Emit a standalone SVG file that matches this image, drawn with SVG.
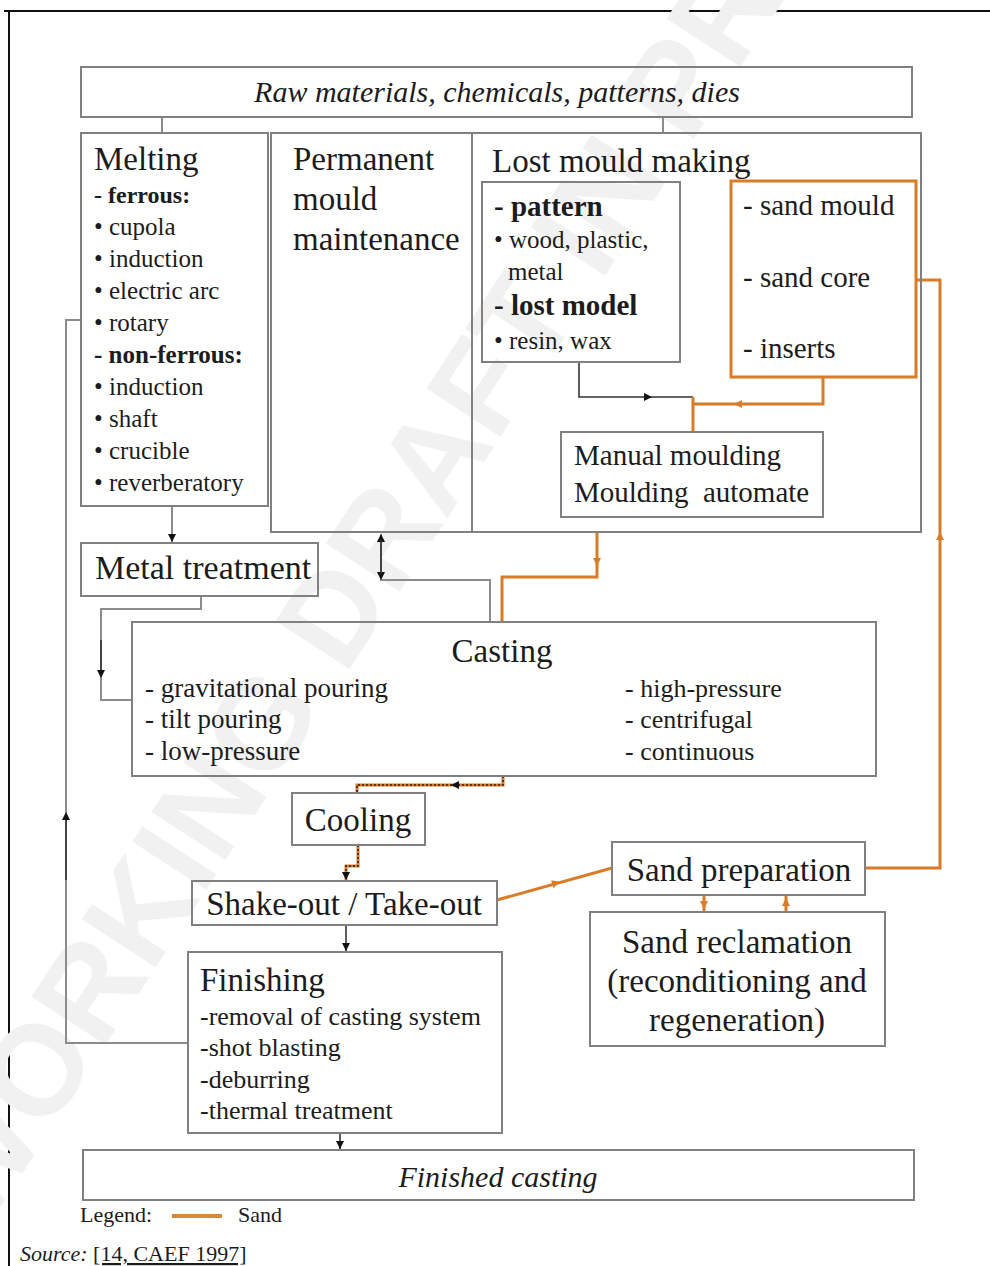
<svg xmlns="http://www.w3.org/2000/svg" width="990" height="1266" viewBox="0 0 990 1266">
<style>
.box{fill:none;stroke:#808080;stroke-width:2}
.obox{fill:none;stroke:#d97b27;stroke-width:3}
.t{font-family:"Liberation Serif","Times New Roman",serif;fill:#1c1c1c}
.i{font-style:italic}
.b{font-weight:bold}
.g{fill:none;stroke:#8c8c8c;stroke-width:2}
.k{fill:none;stroke:#333;stroke-width:1.6}
.o{fill:none;stroke:#d97b27;stroke-width:3}
.od{fill:none;stroke:#222;stroke-width:1.5;stroke-dasharray:2 2}
.ak{fill:#111}
.ao{fill:#d97b27}
</style>
<defs>
<path id="ah" d="M0,0 L-8,-4 L-8,4 Z"/>
</defs>
<rect x="0" y="0" width="990" height="1266" fill="#fff"/>
<g id="frame">
<line x1="4" y1="11" x2="990" y2="11" stroke="#111" stroke-width="2"/>
<line x1="9" y1="11" x2="9" y2="1266" stroke="#111" stroke-width="2"/>
</g>
<g id="watermark" transform="translate(494,362) rotate(-57)">
<text x="0" y="46" text-anchor="middle" font-family="Liberation Sans, Arial, sans-serif" font-weight="bold" font-size="128" fill="#f1f1f1">WORKING DRAFT IN PROGRESS</text>
</g>

<g id="connectors">
<line class="g" x1="162" y1="117" x2="162" y2="133"/>
<line class="g" x1="663" y1="117" x2="663" y2="133"/>
<line class="g" x1="172" y1="506" x2="172" y2="543"/>
<use href="#ah" class="ak" transform="translate(172,542) rotate(90)"/>
<polyline class="g" points="381,534 381,580 490,580 490,622"/>
<use href="#ah" class="ak" transform="translate(381,534) rotate(-90)"/>
<use href="#ah" class="ak" transform="translate(381,580) rotate(90)"/>
<line class="k" x1="381" y1="540" x2="381" y2="574"/>
<polyline class="o" points="597,532 597,577 502,577 502,622"/>
<use href="#ah" class="ao" transform="translate(597,566) rotate(90)"/>
<polyline class="k" points="579,362 579,397 693,397"/>
<use href="#ah" class="ak" transform="translate(652,397)"/>
<polyline class="o" points="823,377 823,404 693,404 693,432"/>
<line class="o" x1="693" y1="397" x2="693" y2="404"/>
<use href="#ah" class="ao" transform="translate(734,404) rotate(180)"/>
<polyline class="o" points="916,280 940,280 940,868 865,868"/>
<use href="#ah" class="ao" transform="translate(940,532) rotate(-90)"/>
<polyline class="g" points="201,596 201,609 101,609 101,700 132,700"/>
<line class="k" x1="101" y1="640" x2="101" y2="676"/>
<use href="#ah" class="ak" transform="translate(101,678) rotate(90)"/>
<polyline class="o" points="503,776 503,785 357,785 357,793"/>
<polyline class="od" points="503,776 503,785 357,785 357,793"/>
<use href="#ah" class="ak" transform="translate(451,785) rotate(180)"/>
<polyline class="o" points="358,845 358,866 346,866 346,881"/>
<polyline class="od" points="358,845 358,866 346,866 346,881"/>
<use href="#ah" class="ak" transform="translate(346,880) rotate(90)"/>
<line class="o" x1="497" y1="900" x2="612" y2="868"/>
<use href="#ah" class="ao" transform="translate(560,882) rotate(-15.5)"/>
<line class="o" x1="704" y1="895" x2="704" y2="912"/>
<use href="#ah" class="ao" transform="translate(704,909) rotate(90)"/>
<line class="o" x1="786" y1="895" x2="786" y2="912"/>
<use href="#ah" class="ao" transform="translate(786,898) rotate(-90)"/>
<line class="k" x1="346" y1="925" x2="346" y2="952"/>
<use href="#ah" class="ak" transform="translate(346,951) rotate(90)"/>
<polyline class="g" points="188,1043 66,1043 66,320 81,320"/>
<line class="k" x1="66" y1="820" x2="66" y2="880"/>
<use href="#ah" class="ak" transform="translate(66,812) rotate(-90)"/>
<line class="k" x1="340" y1="1133" x2="340" y2="1150"/>
<use href="#ah" class="ak" transform="translate(340,1149) rotate(90)"/>
</g>

<g id="raw">
<rect class="box" x="81" y="67" width="831" height="50"/>
<text class="t i" x="497" y="102" font-size="30" text-anchor="middle">Raw materials, chemicals, patterns, dies</text>
</g>

<g id="melting">
<rect class="box" x="81" y="133" width="187" height="373"/>
<text class="t" x="94" y="170" font-size="33">Melting</text>
<text class="t b" x="94" y="203" font-size="24">- ferrous:</text>
<text class="t" x="94" y="235" font-size="25">• cupola</text>
<text class="t" x="94" y="267" font-size="25">• induction</text>
<text class="t" x="94" y="299" font-size="25">• electric  arc</text>
<text class="t" x="94" y="331" font-size="25">• rotary</text>
<text class="t b" x="94" y="363" font-size="25">- non-ferrous:</text>
<text class="t" x="94" y="395" font-size="25">• induction</text>
<text class="t" x="94" y="427" font-size="25">• shaft</text>
<text class="t" x="94" y="459" font-size="25">• crucible</text>
<text class="t" x="94" y="491" font-size="25">• reverberatory</text>
</g>

<g id="permanent">
<rect class="box" x="271" y="133" width="201" height="399"/>
<text class="t" x="293" y="170" font-size="33">Permanent</text>
<text class="t" x="293" y="210" font-size="33">mould</text>
<text class="t" x="293" y="250" font-size="33">maintenance</text>
</g>

<g id="lost-mould">
<rect class="box" x="472" y="133" width="449" height="399"/>
<text class="t" x="492" y="172" font-size="33">Lost mould making</text>
</g>

<g id="pattern">
<rect class="box" x="482" y="182" width="198" height="180"/>
<text class="t b" x="494" y="216" font-size="29">- pattern</text>
<text class="t" x="494" y="248" font-size="25">• wood, plastic,</text>
<text class="t" x="508" y="280" font-size="25">metal</text>
<text class="t b" x="494" y="315" font-size="29">- lost model</text>
<text class="t" x="494" y="349" font-size="25">• resin,  wax</text>
</g>

<g id="sand-items">
<rect class="obox" x="731" y="181" width="185" height="196"/>
<text class="t" x="743" y="215" font-size="29">- sand mould</text>
<text class="t" x="743" y="287" font-size="29">- sand core</text>
<text class="t" x="743" y="358" font-size="29">- inserts</text>
</g>

<g id="moulding">
<rect class="box" x="561" y="432" width="262" height="85"/>
<text class="t" x="574" y="465" font-size="29">Manual moulding</text>
<text class="t" x="574" y="502" font-size="29">Moulding&#160; automate</text>
</g>

<g id="metal-treatment">
<rect class="box" x="81" y="543" width="237" height="53"/>
<text class="t" x="95" y="579" font-size="34">Metal treatment</text>
</g>

<g id="casting">
<rect class="box" x="132" y="622" width="744" height="154"/>
<text class="t" x="502" y="662" font-size="33" text-anchor="middle">Casting</text>
<text class="t" x="145" y="697" font-size="27">- gravitational  pouring</text>
<text class="t" x="145" y="728" font-size="27">- tilt pouring</text>
<text class="t" x="145" y="760" font-size="27">- low-pressure</text>
<text class="t" x="625" y="697" font-size="26">- high-pressure</text>
<text class="t" x="625" y="728" font-size="26">- centrifugal</text>
<text class="t" x="625" y="760" font-size="26">- continuous</text>
</g>

<g id="cooling">
<rect class="box" x="292" y="793" width="133" height="52"/>
<text class="t" x="358" y="831" font-size="33" text-anchor="middle">Cooling</text>
</g>

<g id="shakeout">
<rect class="box" x="192" y="881" width="305" height="44"/>
<text class="t" x="344" y="915" font-size="33" text-anchor="middle">Shake-out / Take-out</text>
</g>

<g id="sand-preparation">
<rect class="box" x="612" y="842" width="253" height="53"/>
<text class="t" x="739" y="881" font-size="33" text-anchor="middle">Sand preparation</text>
</g>

<g id="sand-reclamation">
<rect class="box" x="590" y="912" width="295" height="134"/>
<text class="t" x="737" y="953" font-size="33" text-anchor="middle">Sand reclamation</text>
<text class="t" x="737" y="992" font-size="33" text-anchor="middle">(reconditioning and</text>
<text class="t" x="737" y="1031" font-size="33" text-anchor="middle">regeneration)</text>
</g>

<g id="finishing">
<rect class="box" x="188" y="952" width="314" height="181"/>
<text class="t" x="200" y="991" font-size="33">Finishing</text>
<text class="t" x="200" y="1025" font-size="26">-removal  of casting  system</text>
<text class="t" x="200" y="1056" font-size="26">-shot blasting</text>
<text class="t" x="200" y="1088" font-size="26">-deburring</text>
<text class="t" x="200" y="1119" font-size="26">-thermal  treatment</text>
</g>

<g id="finished">
<rect class="box" x="83" y="1150" width="831" height="50"/>
<text class="t i" x="498" y="1187" font-size="30" text-anchor="middle">Finished casting</text>
</g>

<g id="legend">
<text class="t" x="80" y="1222" font-size="22">Legend:</text>
<line x1="172" y1="1216" x2="222" y2="1216" stroke="#d9893a" stroke-width="4"/>
<text class="t" x="238" y="1222" font-size="22">Sand</text>
</g>

<g id="source">
<text class="t" x="20" y="1261" font-size="22"><tspan font-style="italic">Source:</tspan> <tspan text-decoration="underline">[14, CAEF 1997]</tspan></text>
</g>
</svg>
